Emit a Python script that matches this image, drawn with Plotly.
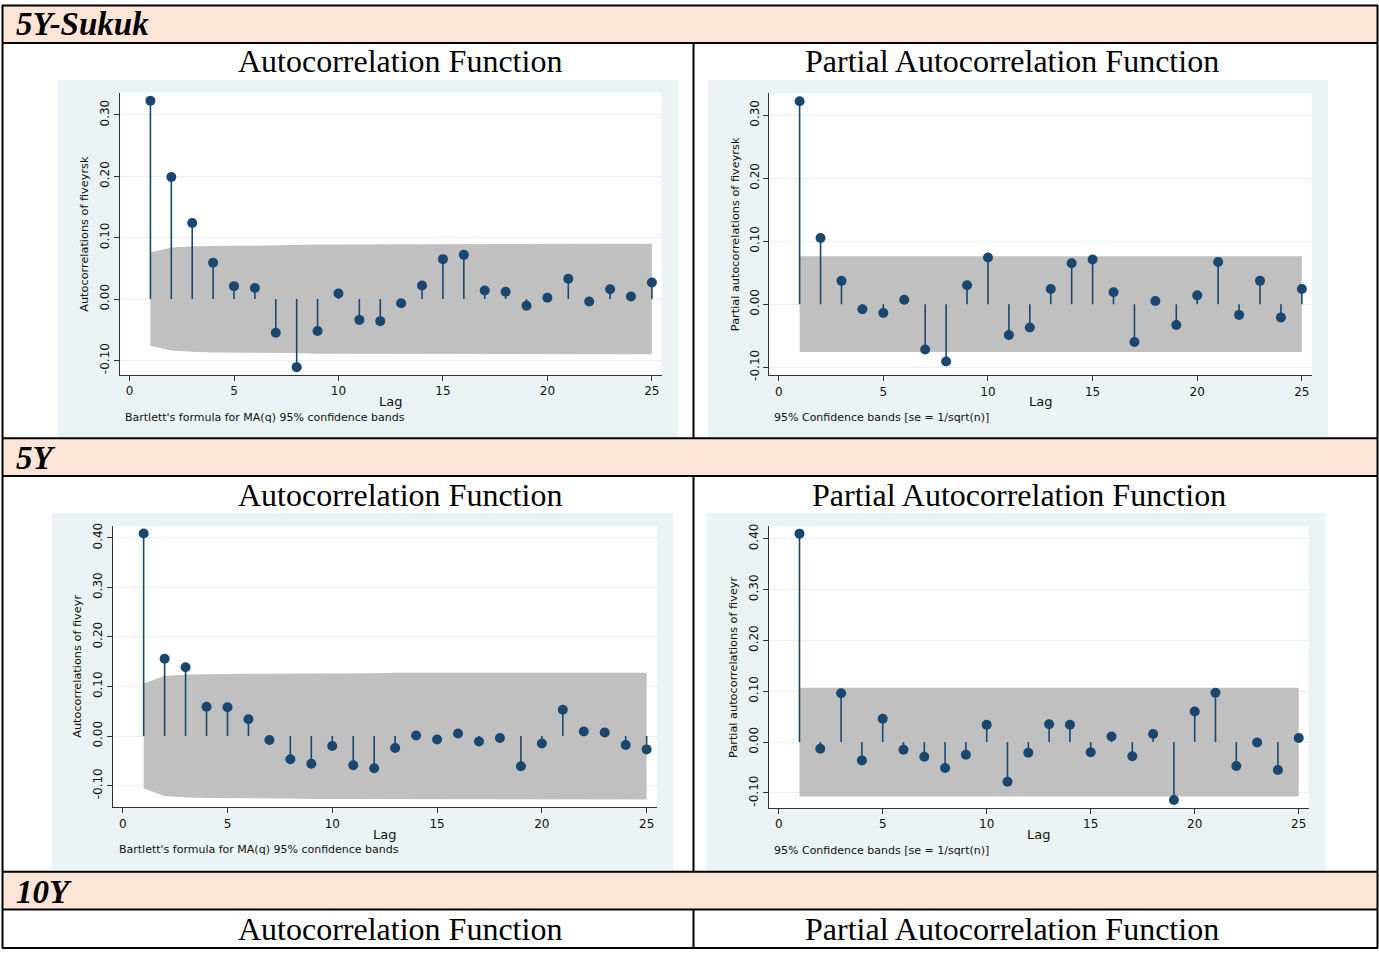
import plotly.graph_objects as go

W, H = 1379, 956

# ---------------- data ----------------
lags = list(range(1, 26))

acf_fiveyrsk = [0.323, 0.199, 0.124, 0.059, 0.021, 0.018, -0.055, -0.111, -0.052, 0.009,
                -0.034, -0.036, -0.007, 0.022, 0.065, 0.072, 0.014, 0.012, -0.011, 0.002,
                0.033, -0.004, 0.016, 0.004, 0.027]
acf_fiveyrsk_band = [0.076, 0.084, 0.086, 0.087, 0.087, 0.087, 0.088, 0.088, 0.089, 0.089,
                     0.089, 0.089, 0.089, 0.089, 0.089, 0.090, 0.090, 0.090, 0.090, 0.090,
                     0.090, 0.090, 0.090, 0.090, 0.090]

pacf_fiveyrsk = [0.322, 0.105, 0.037, -0.008, -0.014, 0.007, -0.072, -0.091, 0.030, 0.074,
                 -0.049, -0.037, 0.024, 0.065, 0.071, 0.019, -0.060, 0.005, -0.033, 0.014,
                 0.067, -0.017, 0.037, -0.021, 0.024]
pacf_fiveyrsk_band = [0.076] * 25

acf_fiveyr = [0.409, 0.156, 0.139, 0.059, 0.058, 0.034, -0.008, -0.047, -0.056, -0.020,
              -0.059, -0.065, -0.024, 0.001, -0.007, 0.005, -0.011, -0.004, -0.061, -0.015,
              0.053, 0.009, 0.007, -0.018, -0.027]
acf_fiveyr_band = [0.106, 0.121, 0.124, 0.125, 0.126, 0.126, 0.126, 0.126, 0.127, 0.127,
                   0.127, 0.127, 0.128, 0.128, 0.128, 0.128, 0.128, 0.128, 0.128, 0.128,
                   0.128, 0.128, 0.128, 0.128, 0.128]

pacf_fiveyr = [0.410, -0.013, 0.096, -0.036, 0.046, -0.015, -0.029, -0.051, -0.025, 0.034,
               -0.078, -0.021, 0.035, 0.034, -0.020, 0.011, -0.028, 0.016, -0.114, 0.060,
               0.097, -0.047, -0.001, -0.055, 0.008]
pacf_fiveyr_band = [0.107] * 25

x_ticks = [0, 5, 10, 15, 20, 25]
y_ticks_top = [-0.10, 0.00, 0.10, 0.20, 0.30]
y_ticks_bot = [-0.10, 0.00, 0.10, 0.20, 0.30, 0.40]

section_labels = ["5Y-Sukuk", "5Y", "10Y"]
acf_title = "Autocorrelation Function"
pacf_title = "Partial Autocorrelation Function"
note_acf = "Bartlett's formula for MA(q) 95% confidence bands"
note_pacf = "95% Confidence bands [se = 1/sqrt(n)]"

# ---------------- style ----------------
NAVY = "#1a476f"
BAND = "#c0c0c0"
PANEL_BG = "#eaf2f3"
GRID = "#e6eef0"
PEACH = "#fce4d6"
SERIF = "Liberation Serif, Times New Roman, serif"
SANS = "DejaVu Sans, Arial, sans-serif"


def fx(p):
    return p / W


def fy(p):
    return 1 - p / H


panels = [
    dict(vals=acf_fiveyrsk, band=acf_fiveyrsk_band, box=(119.5, 90.7, 661.7, 375.3),
         xr=[-0.48, 25.47], yr=[-0.1234, 0.336], yt=y_ticks_top,
         ylab="Autocorrelations of fiveyrsk", note=note_acf, note_x=123,
         bg=(58, 78, 678, 438), ylab_x=85),
    dict(vals=pacf_fiveyrsk, band=pacf_fiveyrsk_band, box=(769.3, 91, 1311.7, 375.7),
         xr=[-0.449, 25.47], yr=[-0.1127, 0.335], yt=y_ticks_top,
         ylab="Partial autocorrelations of fiveyrsk", note=note_pacf, note_x=772,
         bg=(708, 78, 1328, 438), ylab_x=735),
    dict(vals=acf_fiveyr, band=acf_fiveyr_band, box=(113, 528.3, 656.7, 812),
         xr=[-0.463, 25.48], yr=[-0.144, 0.4234], yt=y_ticks_bot,
         ylab="Autocorrelations of fiveyr", note=note_acf, note_x=117,
         bg=(52, 515, 673, 875), ylab_x=78),
    dict(vals=pacf_fiveyr, band=pacf_fiveyr_band, box=(769, 528.3, 1308.7, 812.3),
         xr=[-0.466, 25.48], yr=[-0.129, 0.4244], yt=y_ticks_bot,
         ylab="Partial autocorrelations of fiveyr", note=note_pacf, note_x=772,
         bg=(707, 515, 1325, 876), ylab_x=734),
]

fig = go.Figure()
shapes = []
annotations = []

# header fills
for (y0, y1) in [(2, 40.5), (439.5, 477.5), (877, 915)]:
    shapes.append(dict(type="rect", xref="paper", yref="paper", x0=fx(2), x1=fx(1378),
                       y0=fy(y1), y1=fy(y0), fillcolor=PEACH, line=dict(width=0), layer="below"))

layout_axes = {}
for i, p in enumerate(panels):
    n = i + 1
    xa = "xaxis" if n == 1 else f"xaxis{n}"
    ya = "yaxis" if n == 1 else f"yaxis{n}"
    xref = "x" if n == 1 else f"x{n}"
    yref = "y" if n == 1 else f"y{n}"
    bx0, by0, bx1, by1 = p["box"]

    gx0, gy0, gx1, gy1 = p["bg"]
    shapes.append(dict(type="rect", xref="paper", yref="paper", x0=fx(gx0), x1=fx(gx1),
                       y0=fy(gy1), y1=fy(gy0), fillcolor=PANEL_BG, line=dict(width=0),
                       layer="below"))
    shapes.append(dict(type="rect", xref="paper", yref="paper", x0=fx(bx0), x1=fx(bx1),
                       y0=fy(by1), y1=fy(by0), fillcolor="white", line=dict(width=0),
                       layer="below"))

    upper = p["band"]
    lower = [-b for b in p["band"]]
    fig.add_trace(go.Scatter(x=lags + lags[::-1], y=upper + lower[::-1], fill="toself",
                             fillcolor=BAND, line=dict(width=0), mode="lines",
                             hoverinfo="skip", showlegend=False, xaxis=xref, yaxis=yref))
    sx, sy = [], []
    for lag, v in zip(lags, p["vals"]):
        sx += [lag, lag, None]
        sy += [0, v, None]
    fig.add_trace(go.Scatter(x=sx, y=sy, mode="lines", line=dict(color=NAVY, width=1.6),
                             hoverinfo="skip", showlegend=False, xaxis=xref, yaxis=yref))
    fig.add_trace(go.Scatter(x=lags, y=p["vals"], mode="markers",
                             marker=dict(color=NAVY, size=10, line=dict(width=0)),
                             showlegend=False, xaxis=xref, yaxis=yref))

    layout_axes[xa] = dict(domain=[fx(bx0), fx(bx1)], range=p["xr"], anchor=yref,
                           tickvals=x_ticks, ticktext=[str(t) for t in x_ticks],
                           showgrid=False, zeroline=False, showline=True,
                           linecolor="#333333", linewidth=1, ticks="outside", ticklen=5,
                           tickcolor="#333333", tickfont=dict(family=SANS, size=12, color="#111"))
    layout_axes[ya] = dict(domain=[fy(by1), fy(by0)], range=p["yr"], anchor=xref,
                           tickvals=p["yt"], ticktext=[f"{t:.2f}" for t in p["yt"]],
                           tickangle=-90, showgrid=True, gridcolor=GRID, gridwidth=1,
                           zeroline=False, showline=True, linecolor="#333333", linewidth=1,
                           ticks="outside", ticklen=5, tickcolor="#333333",
                           tickfont=dict(family=SANS, size=12, color="#111"))

    cx = (bx0 + bx1) / 2
    cy = (by0 + by1) / 2
    annotations.append(dict(text=p["ylab"], x=fx(p["ylab_x"]), y=fy(cy), xref="paper",
                            yref="paper", showarrow=False, textangle=-90,
                            font=dict(family=SANS, size=11.3, color="#111"),
                            xanchor="center", yanchor="middle"))
    annotations.append(dict(text="Lag", x=fx(cx), y=fy(by1 + 27), xref="paper", yref="paper",
                            showarrow=False, font=dict(family=SANS, size=13, color="#111"),
                            xanchor="center", yanchor="middle"))
    annotations.append(dict(text=p["note"], x=fx(p["note_x"]), y=fy(by1 + 43), xref="paper",
                            yref="paper", showarrow=False,
                            font=dict(family=SANS, size=11, color="#111"),
                            xanchor="left", yanchor="middle"))

# titles
title_rows = [59, 497, 935]
for ty in title_rows:
    annotations.append(dict(text=acf_title, x=fx(400), y=fy(ty), xref="paper", yref="paper",
                            showarrow=False, font=dict(family=SERIF, size=32, color="black"),
                            xanchor="center", yanchor="middle"))
pacf_x = [1012, 1019, 1012]
for ty, tx in zip(title_rows, pacf_x):
    annotations.append(dict(text=pacf_title, x=fx(tx), y=fy(ty), xref="paper", yref="paper",
                            showarrow=False, font=dict(family=SERIF, size=32, color="black"),
                            xanchor="center", yanchor="middle"))

# section headers
for lab, ty in zip(section_labels, [21, 459, 897]):
    annotations.append(dict(text=f"<b><i>{lab}</i></b>", x=fx(14), y=fy(ty), xref="paper",
                            yref="paper", showarrow=False,
                            font=dict(family=SERIF, size=33, color="black"),
                            xanchor="left", yanchor="middle"))

# table lines
LW = 2


def hline(y, x0=2, x1=1378):
    shapes.append(dict(type="line", xref="paper", yref="paper", x0=fx(x0), x1=fx(x1),
                       y0=fy(y), y1=fy(y), line=dict(color="black", width=LW)))


def vline(x, y0, y1):
    shapes.append(dict(type="line", xref="paper", yref="paper", x0=fx(x), x1=fx(x),
                       y0=fy(y0), y1=fy(y1), line=dict(color="black", width=LW)))


for y in [2.5, 40.5, 439.5, 477.5, 877, 915, 954]:
    hline(y)
vline(2.5, 2, 954)
vline(1377.5, 2, 954)
for (a, b) in [(40.5, 439.5), (477.5, 877), (915, 954)]:
    vline(693.5, a, b)

fig.update_layout(width=W, height=H, margin=dict(l=0, r=0, t=0, b=0),
                  paper_bgcolor="white", plot_bgcolor="rgba(0,0,0,0)",
                  shapes=shapes, annotations=annotations, showlegend=False,
                  **layout_axes)

fig.write_html("out.html")
